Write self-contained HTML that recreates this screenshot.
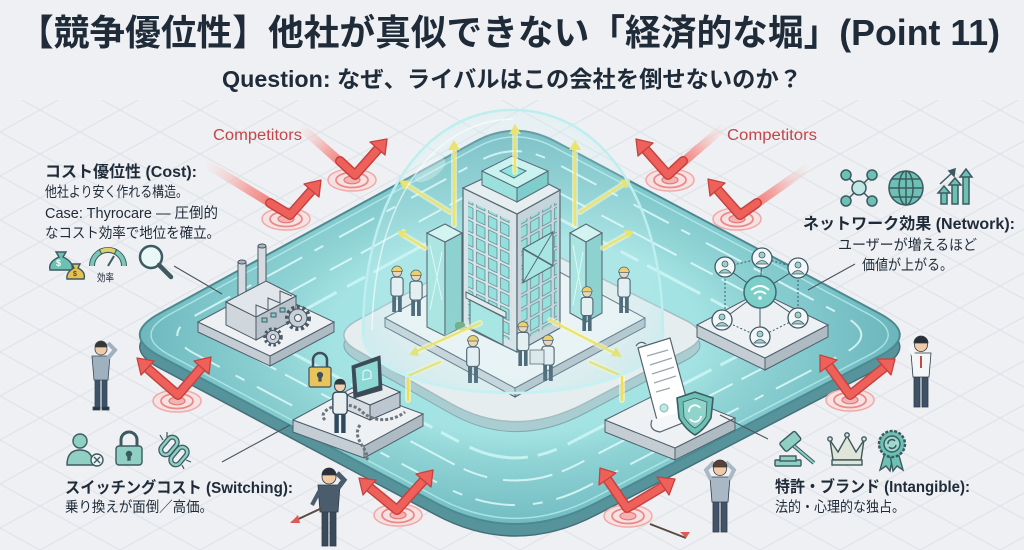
<!DOCTYPE html>
<html><head><meta charset="utf-8">
<style>
html,body{margin:0;padding:0;background:#eef0f3;width:1024px;height:550px;overflow:hidden;}
svg{display:block;}
text{font-family:"Liberation Sans","Noto Sans CJK JP",sans-serif;fill:#1f2b38;}
</style></head><body>
<svg width="1024" height="550" viewBox="0 0 1024 550" xmlns="http://www.w3.org/2000/svg">
<defs>
  <pattern id="grid" width="80" height="44" patternUnits="userSpaceOnUse">
    <path d="M0,0 L80,44 M0,44 L80,0" stroke="#dde2e7" stroke-width="1" fill="none"/>
  </pattern>
  <radialGradient id="moatG" cx="515" cy="335" r="410" gradientUnits="userSpaceOnUse" gradientTransform="translate(515,335) scale(1,0.53) translate(-515,-335)">
    <stop offset="0.45" stop-color="#a4e3e3"/>
    <stop offset="0.6" stop-color="#8ed2d4"/>
    <stop offset="0.82" stop-color="#77c0c5"/>
    <stop offset="1" stop-color="#66afb6"/>
  </radialGradient>
  <radialGradient id="domeG" cx="513" cy="240" r="170" gradientUnits="userSpaceOnUse">
    <stop offset="0" stop-color="#e6fbfc" stop-opacity="0.1"/>
    <stop offset="0.8" stop-color="#c8f1f3" stop-opacity="0.22"/>
    <stop offset="1" stop-color="#b0e8ec" stop-opacity="0.35"/>
  </radialGradient>
  <pattern id="winP" width="12" height="14" patternUnits="userSpaceOnUse">
    <rect x="1.5" y="1.5" width="8.5" height="11" fill="#8adcd8" stroke="#3f6b73" stroke-width="0.7"/>
  </pattern>
  <linearGradient id="t1" gradientUnits="userSpaceOnUse" x1="205" y1="163" x2="290" y2="215">
    <stop offset="0" stop-color="#f6d0ce" stop-opacity="0"/><stop offset="0.5" stop-color="#f3a9a6"/><stop offset="1" stop-color="#ec5c57"/></linearGradient>
  <linearGradient id="t2" gradientUnits="userSpaceOnUse" x1="300" y1="126" x2="355" y2="175">
    <stop offset="0" stop-color="#f6d0ce" stop-opacity="0"/><stop offset="0.5" stop-color="#f3a9a6"/><stop offset="1" stop-color="#ec5c57"/></linearGradient>
  <linearGradient id="t3" gradientUnits="userSpaceOnUse" x1="725" y1="126" x2="668" y2="175">
    <stop offset="0" stop-color="#f6d0ce" stop-opacity="0"/><stop offset="0.5" stop-color="#f3a9a6"/><stop offset="1" stop-color="#ec5c57"/></linearGradient>
  <linearGradient id="t4" gradientUnits="userSpaceOnUse" x1="810" y1="166" x2="740" y2="215">
    <stop offset="0" stop-color="#f6d0ce" stop-opacity="0"/><stop offset="0.5" stop-color="#f3a9a6"/><stop offset="1" stop-color="#ec5c57"/></linearGradient>

  <g id="worker">
    <path d="M-2,0 L-2,-12 M2,0 L2,-12" stroke="#2f4a5e" stroke-width="2.6"/>
    <rect x="-4.2" y="-24" width="8.4" height="13" rx="2" fill="#e9eef1" stroke="#34495a" stroke-width="0.8"/>
    <circle cx="0" cy="-27.5" r="3.2" fill="#f1cfae" stroke="#34495a" stroke-width="0.6"/>
    <path d="M-3.7,-28 A3.7,3.7 0 0 1 3.7,-28 Z" fill="#f2c94c" stroke="#34495a" stroke-width="0.5"/>
  </g>
  <g id="target">
    <ellipse rx="24" ry="11" fill="#f9dcdb" fill-opacity="0.7" stroke="#f1aaa8" stroke-width="1.5"/>
    <ellipse rx="16" ry="7.5" fill="none" stroke="#eb8a88" stroke-width="1.8"/>
    <ellipse rx="8" ry="3.8" fill="#f4b3b1" stroke="#e47b79" stroke-width="1.2"/>
  </g>
</defs>

<rect width="1024" height="550" fill="#eef0f3"/>
<rect x="0" y="100" width="1024" height="450" fill="url(#grid)"/>

<!-- moat side + top -->
<path transform="translate(0,12)" d="M159.5,313.5 L475.5,141.5 Q515,120 555.5,141.5 L879.5,313.5 Q920,335 879.5,356 L596,503 Q515,545 436,503 L159.5,356 Q120,335 159.5,313.5 Z" fill="#56939b" stroke="#456f78" stroke-width="1.5"/>
<path d="M159.5,313.5 L475.5,141.5 Q515,120 555.5,141.5 L879.5,313.5 Q920,335 879.5,356 L596,503 Q515,545 436,503 L159.5,356 Q120,335 159.5,313.5 Z" fill="url(#moatG)" stroke="#4b8a93" stroke-width="2"/>
<g fill="none" stroke="#e4fdfd" stroke-width="2" opacity="0.8">
  <path transform="translate(515,335) scale(0.9) translate(-515,-335)" vector-effect="non-scaling-stroke" stroke-dasharray="40 14 10 18" d="M159.5,313.5 L475.5,141.5 Q515,120 555.5,141.5 L879.5,313.5 Q920,335 879.5,356 L596,503 Q515,545 436,503 L159.5,356 Q120,335 159.5,313.5 Z"/>
  <path transform="translate(515,335) scale(0.77) translate(-515,-335)" vector-effect="non-scaling-stroke" stroke-dasharray="25 10 50 16" d="M159.5,313.5 L475.5,141.5 Q515,120 555.5,141.5 L879.5,313.5 Q920,335 879.5,356 L596,503 Q515,545 436,503 L159.5,356 Q120,335 159.5,313.5 Z"/>
  <path transform="translate(515,335) scale(0.65) translate(-515,-335)" vector-effect="non-scaling-stroke" stroke="#d2f8f8" stroke-width="3" stroke-dasharray="60 12 20 10" d="M159.5,313.5 L475.5,141.5 Q515,120 555.5,141.5 L879.5,313.5 Q920,335 879.5,356 L596,503 Q515,545 436,503 L159.5,356 Q120,335 159.5,313.5 Z"/>
</g>
<path transform="translate(515,335) scale(0.97) translate(-515,-335)" d="M159.5,313.5 L475.5,141.5 Q515,120 555.5,141.5 L879.5,313.5 Q920,335 879.5,356 L596,503 Q515,545 436,503 L159.5,356 Q120,335 159.5,313.5 Z" fill="none" stroke="#b5eeec" stroke-width="1.5" opacity="0.8"/>

<!-- island -->
<path transform="translate(0,10)" d="M357.75,320 L487.25,250 Q515,235 545,250 L685,320 Q715,335 685,350.75 L585,403.25 Q515,440 450.25,403.25 L357.75,350.75 Q330,335 357.75,320 Z" fill="#a9cdd1" stroke="#7fa9ae" stroke-width="1"/>
<path d="M357.75,320 L487.25,250 Q515,235 545,250 L685,320 Q715,335 685,350.75 L585,403.25 Q515,440 450.25,403.25 L357.75,350.75 Q330,335 357.75,320 Z" fill="#e5edef" stroke="#a3bcc2" stroke-width="1.5"/>

<!-- building slab -->
<polygon points="385,318 515,388 515,397 385,327" fill="#c5cfd6" stroke="#4f606c" stroke-width="1"/>
<polygon points="515,388 645,318 645,327 515,397" fill="#b0bcc5" stroke="#4f606c" stroke-width="1"/>
<polygon points="385,318 515,248 645,318 515,388" fill="#eff3f5" stroke="#4f606c" stroke-width="1"/>

<!-- main tower -->
<g stroke="#3e4f5c" stroke-width="1.2">
  <polygon points="463,188 517,214 517,352 463,326" fill="#d9e0e5"/>
  <polygon points="517,214 560,190 560,328 517,352" fill="#c3ced6"/>
  <polygon points="463,188 512,165 560,190 517,214" fill="#e7ecef"/>
</g>
<g transform="matrix(1,0.48,0,1,463,188)"><rect x="5" y="10" width="44" height="120" fill="url(#winP)"/></g>
<g transform="matrix(1,-0.56,0,1,517,214)"><rect x="4" y="10" width="36" height="120" fill="url(#winP)"/>
  <rect x="6" y="38" width="30" height="34" fill="#9fe3df" stroke="#3e4f5c" stroke-width="1.2"/>
  <path d="M6,38 L36,72 M36,38 L6,72" stroke="#3e4f5c" stroke-width="1.2"/></g>
<g stroke="#3e4f5c" stroke-width="1">
  <polygon points="482,185 517,202 517,188 482,171" fill="#8fdcd8"/>
  <polygon points="517,202 548,185 548,171 517,188" fill="#6fc6c4"/>
  <polygon points="482,171 512,156 548,171 517,188" fill="#c8f2ef"/>
  <polygon points="500,171 512,165 526,171 514,178" fill="#7fe0dc"/>
</g>
<g stroke="#3e4f5c" stroke-width="1.1">
  <polygon points="427,233 445,242 445,336 427,327" fill="#a3e2dd"/>
  <polygon points="445,242 462,233 462,327 445,336" fill="#7fcbc8"/>
  <polygon points="427,233 445,224 462,233 445,242" fill="#d2f3f0"/>
  <polygon points="570,233 586,242 586,322 570,313" fill="#a3e2dd"/>
  <polygon points="586,242 602,233 602,313 586,322" fill="#7fcbc8"/>
  <polygon points="570,233 586,224 602,233 586,242" fill="#d2f3f0"/>
</g>
<path d="M430,245 L442,300 M442,252 L430,310 M573,245 L583,300 M583,252 L573,305" stroke="#eafffd" stroke-width="1" opacity="0.8"/>
<polygon points="466,292 506,312 506,318 466,298" fill="#e3e8eb" stroke="#3e4f5c" stroke-width="1"/>
<polygon points="470,300 503,317 503,345 470,328" fill="#9fe3df" stroke="#3e4f5c" stroke-width="1"/>
<rect x="455" y="322" width="10" height="8" rx="3" fill="#5fa070"/>

<use href="#worker" transform="translate(397,312) scale(1.45)"/>
<use href="#worker" transform="translate(416,316) scale(1.45)"/>
<use href="#worker" transform="translate(587,331) scale(1.4)"/>
<use href="#worker" transform="translate(624,313) scale(1.45)"/>
<use href="#worker" transform="translate(473,383) scale(1.5)"/>
<use href="#worker" transform="translate(523,366) scale(1.4)"/>
<use href="#worker" transform="translate(548,381) scale(1.45)"/>
<rect x="530" y="350" width="14" height="14" fill="#dfe5e9" stroke="#3e4f5c" stroke-width="0.8"/>

<!-- yellow arrows -->
<g fill="none" stroke-linecap="round">
  <g stroke="#fff8c4" stroke-width="6" opacity="0.6">
    <path d="M515,172 L515,130 M454,225 L454,147 M575,225 L575,147 M450,212 L405,184 M580,212 L625,183 M425,248 L402,234 M603,248 L628,234 M480,323 L415,352 M550,320 L616,354 M440,362 L408,376 L408,400 M590,362 L622,376 L622,400"/>
  </g>
  <g stroke="#f1df4f" stroke-width="2.2">
    <path d="M515,172 L515,130 M454,225 L454,147 M575,225 L575,147 M450,212 L405,184 M580,212 L625,183 M425,248 L402,234 M603,248 L628,234 M480,323 L415,352 M550,320 L616,354 M440,362 L408,376 L408,400 M590,362 L622,376 L622,400"/>
  </g>
</g>
<g fill="#f1df4f">
  <polygon points="515,124 509,134 521,134"/>
  <polygon points="454,140 448,150 460,150"/>
  <polygon points="575,140 569,150 581,150"/>
  <polygon points="399,180 410,181 404,190"/>
  <polygon points="631,179 626,189 620,180"/>
  <polygon points="397,231 407,230 402,239"/>
  <polygon points="634,231 629,239 624,230"/>
  <polygon points="409,355 416,346 419,356"/>
  <polygon points="622,357 611,356 616,347"/>
</g>

<!-- dome -->
<path d="M363,335 C363,190 430,110 513,110 C596,110 663,190 663,335 A150,58 0 0 1 363,335 Z" fill="url(#domeG)" stroke="#bdeef0" stroke-width="2.5"/>
<path d="M372,330 C374,200 435,120 513,119" fill="none" stroke="#ffffff" stroke-width="1.5" opacity="0.6"/>
<path d="M363,335 A150,58 0 0 0 663,335" fill="none" stroke="#c6f5f6" stroke-width="2" opacity="0.7"/>
<ellipse cx="430" cy="170" rx="18" ry="8" fill="#ffffff" opacity="0.3" transform="rotate(-35 430 170)"/>

<!-- factory platform -->
<g stroke="#4f606c" stroke-width="1">
  <polygon points="198,322 270,356 270,366 198,332" fill="#c3cdd3"/>
  <polygon points="270,356 334,322 334,332 270,366" fill="#aebbc3"/>
  <polygon points="198,322 262,288 334,322 270,356" fill="#eef1f3"/>
</g>
<g stroke="#4b5a66" stroke-width="1">
  <rect x="238" y="262" width="8" height="42" fill="#d5dbe0"/>
  <ellipse cx="242" cy="262" rx="4" ry="2" fill="#a9b3bb"/>
  <rect x="258" y="246" width="8" height="52" fill="#d5dbe0"/>
  <ellipse cx="262" cy="246" rx="4" ry="2" fill="#a9b3bb"/>
  <polygon points="226,302 256,317 256,340 226,325" fill="#cfd6dc"/>
  <polygon points="256,317 296,296 296,319 256,340" fill="#b9c3cb"/>
  <polygon points="226,302 256,317 296,296 266,281" fill="#e1e6ea"/>
  <path d="M256,317 L256,305 L268,310 L268,298 L280,303 L280,291 L292,296" fill="none"/>
  <rect x="262" y="318" width="5" height="4" fill="#7fcfcb"/>
  <rect x="271" y="313" width="5" height="4" fill="#7fcfcb"/>
  <rect x="280" y="308" width="5" height="4" fill="#7fcfcb"/>
</g>
<g stroke="#4b5a66">
  <circle cx="298" cy="318" r="11" fill="none" stroke-width="4" stroke-dasharray="3 2.6"/>
  <circle cx="298" cy="318" r="9" fill="#c7d0d6" stroke-width="1"/>
  <circle cx="298" cy="318" r="3.5" fill="#eef1f3" stroke-width="1"/>
  <circle cx="273" cy="337" r="8" fill="none" stroke-width="3.5" stroke-dasharray="2.5 2.3"/>
  <circle cx="273" cy="337" r="6.5" fill="#c7d0d6" stroke-width="1"/>
  <circle cx="273" cy="337" r="2.5" fill="#eef1f3" stroke-width="1"/>
</g>

<!-- network platform -->
<g stroke="#4f606c" stroke-width="1">
  <polygon points="697,325 765,358 765,370 697,337" fill="#c3cdd3"/>
  <polygon points="765,358 828,325 828,337 765,370" fill="#aebbc3"/>
  <polygon points="697,325 760,292 828,325 765,358" fill="#eef1f3"/>
</g>
<g stroke="#3d5a66" stroke-width="1" fill="none">
  <path d="M760,292 L725,267 M760,292 L762,258 M760,292 L798,268 M760,292 L722,320 M760,292 L798,318 M760,292 L760,337"/>
  <path d="M725,267 L762,258 L798,268 M722,320 L760,337 L798,318 M725,267 L725,310 M798,268 L798,308" stroke-dasharray="2 2"/>
</g>
<circle cx="760" cy="292" r="16" fill="#7ccfc8" stroke="#3d6b73" stroke-width="1.5"/>
<path d="M751,290 Q760,282 769,290 M754,294 Q760,289 766,294" fill="none" stroke="#ffffff" stroke-width="2"/>
<circle cx="760" cy="298" r="1.8" fill="#fff"/>
<g fill="#f3f7f8" stroke="#3d5a66" stroke-width="1.3">
  <circle cx="725" cy="267" r="10"/><circle cx="762" cy="258" r="10"/><circle cx="798" cy="268" r="10"/>
  <circle cx="722" cy="320" r="10"/><circle cx="798" cy="318" r="10"/><circle cx="760" cy="337" r="10"/>
</g>
<g fill="#9fcfc9" stroke="#3d5a66" stroke-width="0.8">
  <circle cx="725" cy="264" r="3"/><path d="M719,273 Q725,266 731,273 Z"/>
  <circle cx="762" cy="255" r="3"/><path d="M756,264 Q762,257 768,264 Z"/>
  <circle cx="798" cy="265" r="3"/><path d="M792,274 Q798,267 804,274 Z"/>
  <circle cx="722" cy="317" r="3"/><path d="M716,326 Q722,319 728,326 Z"/>
  <circle cx="798" cy="315" r="3"/><path d="M792,324 Q798,317 804,324 Z"/>
  <circle cx="760" cy="334" r="3"/><path d="M754,343 Q760,336 766,343 Z"/>
</g>

<!-- switching platform -->
<g stroke="#4f606c" stroke-width="1">
  <polygon points="293,420 364,446 364,458 293,432" fill="#c3cdd3"/>
  <polygon points="364,446 423,414 423,426 364,458" fill="#aebbc3"/>
  <polygon points="293,420 352,388 423,414 364,446" fill="#eef1f3"/>
</g>
<g stroke="#3e4f5c" stroke-width="1">
  <polygon points="347,395 370,405 370,420 347,410" fill="#d5dce1"/>
  <polygon points="370,405 400,392 400,407 370,420" fill="#bcc6ce"/>
  <polygon points="347,395 377,382 400,392 370,405" fill="#e6ebee"/>
  <polygon points="352,366 380,356 382,390 354,398" fill="#3c4a56"/>
  <polygon points="355,368 378,360 379,386 357,393" fill="#8fd9d4"/>
  <path d="M363,372 Q367,368 371,372 L371,378 L363,380 Z" fill="none" stroke="#e8ffff" stroke-width="1"/>
</g>
<path d="M325,420 C315,410 345,398 360,410 C375,425 395,420 405,412 M360,425 C350,440 372,450 366,462" fill="none" stroke="#6c757d" stroke-width="3" stroke-dasharray="3 2"/>
<g stroke="#3e4f5c" stroke-width="1.2">
  <path d="M313,368 L313,360 A7,7 0 0 1 327,360 L327,368" fill="none" stroke-width="2.5"/>
  <rect x="309" y="367" width="22" height="20" rx="2" fill="#e9c45a"/>
  <circle cx="320" cy="375" r="2.5" fill="#3e4f5c"/>
  <rect x="319" y="376" width="2" height="5" fill="#3e4f5c"/>
</g>
<g transform="translate(340,433) scale(1.7)">
  <path d="M-2,0 L-2,-12 M2,0 L2,-12" stroke="#2f4a5e" stroke-width="2.6"/>
  <rect x="-4.2" y="-24" width="8.4" height="13" rx="2" fill="#e9eef1" stroke="#34495a" stroke-width="0.8"/>
  <circle cx="0" cy="-27.5" r="3.2" fill="#f1cfae" stroke="#34495a" stroke-width="0.6"/>
  <path d="M-3.4,-28.5 A3.4,3.4 0 0 1 3.4,-28.5 Z" fill="#2f3a44"/>
</g>

<!-- patent platform -->
<g stroke="#4f606c" stroke-width="1">
  <polygon points="605,420 675,448 675,460 605,432" fill="#c3cdd3"/>
  <polygon points="675,448 735,418 735,430 675,460" fill="#aebbc3"/>
  <polygon points="605,420 665,390 735,418 675,448" fill="#eef1f3"/>
</g>
<g stroke="#55636e" stroke-width="1.2">
  <polygon points="638,348 670,338 690,412 658,424" fill="#ffffff"/>
  <path d="M636,346 Q640,340 646,344 M652,420 Q648,430 660,432 L690,420 Q695,412 688,410" fill="#f4f6f7"/>
  <path d="M647,356 L668,350 M650,365 L672,358 M652,374 L674,367 M654,383 L676,376 M656,392 L670,388" fill="none" stroke="#9aa6ae" stroke-width="1.2"/>
  <circle cx="664" cy="408" r="4" fill="#bfe8e4" stroke="#7fb9b3" stroke-width="1"/>
</g>
<path d="M695,392 L713,398 L711,418 Q704,430 695,435 Q686,430 679,418 L677,398 Z" fill="#6cc0b4" stroke="#3d5c64" stroke-width="1.6"/>
<path d="M695,398 L707,402 L706,417 Q701,425 695,428 Q689,425 684,417 L683,402 Z" fill="#8fd4ca" stroke="#3d5c64" stroke-width="0.8"/>
<path d="M689,412 A6,6 0 0 1 700,408 M701,416 A6,6 0 0 1 690,419" fill="none" stroke="#ffffff" stroke-width="1.8"/>

<!-- targets -->
<use href="#target" transform="translate(286,219)"/>
<use href="#target" transform="translate(352,180)"/>
<use href="#target" transform="translate(670,180)"/>
<use href="#target" transform="translate(737,219)"/>
<use href="#target" transform="translate(177,401)"/>
<use href="#target" transform="translate(398,515)"/>
<use href="#target" transform="translate(628,516)"/>
<use href="#target" transform="translate(850,400)"/>

<!-- red arrows -->
<g fill="none" stroke-linecap="round" stroke-linejoin="round">
  <path d="M205,163 L290,215" stroke="url(#t1)" stroke-width="9"/>
  <path d="M300,126 L355,175" stroke="url(#t2)" stroke-width="9"/>
  <path d="M725,126 L668,175" stroke="url(#t3)" stroke-width="9"/>
  <path d="M810,166 L740,215" stroke="url(#t4)" stroke-width="9"/>
  <g stroke="#c4433f" stroke-width="10">
    <path d="M270,203 L290,215 L312,190"/>
    <path d="M340,161 L355,175 L378,149"/>
    <path d="M683,161 L668,175 L645,149"/>
    <path d="M757,203 L740,215 L717,189"/>
    <path d="M147,368 L178,395 L202,367"/>
    <path d="M369,487 L397,510 L424,480"/>
    <path d="M607,479 L627,508 L664,486"/>
    <path d="M829,366 L850,395 L885,367"/>
  </g>
  <g stroke="#ef605b" stroke-width="7">
    <path d="M270,203 L290,215 L312,190"/>
    <path d="M340,161 L355,175 L378,149"/>
    <path d="M683,161 L668,175 L645,149"/>
    <path d="M757,203 L740,215 L717,189"/>
    <path d="M147,368 L178,395 L202,367"/>
    <path d="M369,487 L397,510 L424,480"/>
    <path d="M607,479 L627,508 L664,486"/>
    <path d="M829,366 L850,395 L885,367"/>
  </g>
</g>
<g fill="#ef605b" stroke="#c4433f" stroke-width="1.3" stroke-linejoin="round">
  <polygon points="321,180 319,197 304,184"/>
  <polygon points="387,139 385,155 370,142"/>
  <polygon points="636,139 653,143 638,156"/>
  <polygon points="708,179 725,183 710,196"/>
  <polygon points="137,358 154,361 141,375"/>
  <polygon points="211,357 209,374 194,361"/>
  <polygon points="359,478 376,480 363,495"/>
  <polygon points="433,470 431,487 416,474"/>
  <polygon points="600,468 616,473 599,485"/>
  <polygon points="675,479 669,495 657,477"/>
  <polygon points="820,355 837,360 820,372"/>
  <polygon points="895,359 891,375 877,359"/>
</g>

<!-- stressed men -->
<g stroke="#34495a" stroke-width="0.8">
  <rect x="95" y="378" width="5" height="30" fill="#3d5266"/><rect x="102" y="378" width="5" height="30" fill="#3d5266"/>
  <path d="M92,356 L110,356 L108,380 L94,380 Z" fill="#9fb1bf"/>
  <path d="M108,358 L115,350 L108,343" fill="none" stroke="#9fb1bf" stroke-width="4"/>
  <circle cx="101" cy="349" r="6" fill="#f0cba8"/>
  <path d="M95,347 A6,6 0 0 1 107,347 Z" fill="#3b3530"/>
  <rect x="93" y="407" width="7" height="3" fill="#2a3440"/><rect x="102" y="407" width="7" height="3" fill="#2a3440"/>
</g>
<g stroke="#2d3b48" stroke-width="0.8">
  <rect x="322" y="510" width="6" height="36" fill="#3a4a5a"/><rect x="330" y="510" width="6" height="36" fill="#3a4a5a"/>
  <path d="M318,485 L340,485 L338,512 L320,512 Z" fill="#4b5c6d"/>
  <path d="M338,488 L344,480 L337,473" fill="none" stroke="#4b5c6d" stroke-width="5"/>
  <path d="M320,490 L312,505" fill="none" stroke="#4b5c6d" stroke-width="4"/>
  <circle cx="329" cy="477" r="7" fill="#f0cba8"/>
  <path d="M322,475 A7,7 0 0 1 336,475 Z" fill="#2b2f35"/>
</g>
<path d="M292,522 L322,508" stroke="#5a4a40" stroke-width="2"/>
<polygon points="290,523 298,515 300,523" fill="#e05a55"/>
<g stroke="#2d3b48" stroke-width="0.8">
  <rect x="713" y="500" width="6" height="32" fill="#42546a"/><rect x="721" y="500" width="6" height="32" fill="#42546a"/>
  <path d="M710,477 L730,477 L728,502 L712,502 Z" fill="#a9b8c4"/>
  <path d="M711,480 L706,470 L714,462 M729,480 L734,470 L726,462" fill="none" stroke="#a9b8c4" stroke-width="4"/>
  <circle cx="720" cy="469" r="6.5" fill="#f0cba8"/>
  <path d="M713,467 A7,7 0 0 1 727,467 Z" fill="#5a4032"/>
</g>
<path d="M650,524 L686,538" stroke="#5a4a40" stroke-width="2"/>
<polygon points="686,538 680,532 690,532" fill="#e05a55"/>
<g stroke="#2d3b48" stroke-width="0.8">
  <rect x="914" y="375" width="6" height="32" fill="#3f5168"/><rect x="922" y="375" width="6" height="32" fill="#3f5168"/>
  <path d="M911,353 L931,353 L929,377 L913,377 Z" fill="#f3f5f6"/>
  <path d="M914,356 L910,348 L918,343" fill="none" stroke="#f3f5f6" stroke-width="4"/>
  <circle cx="921" cy="345" r="6.5" fill="#f0cba8"/>
  <path d="M914,343 A7,7 0 0 1 928,343 Z" fill="#2b2f35"/>
  <rect x="920" y="356" width="2" height="12" fill="#c24a46" stroke="none"/>
</g>

<!-- connector lines -->
<g stroke="#4a5560" stroke-width="1.1">
  <line x1="174" y1="266" x2="222" y2="294"/>
  <line x1="855" y1="264" x2="808" y2="290"/>
  <line x1="222" y1="462" x2="290" y2="425"/>
  <line x1="720" y1="415" x2="768" y2="439"/>
</g>

<!-- icons: left -->
<g stroke="#3c5a60" stroke-width="1.4">
  <path d="M56,252 L66,252 L63,257 Q74,262 72,270 L50,270 Q48,262 59,257 Z" fill="#6cc0b4"/>
  <path d="M72,264 L80,264 L78,268 Q86,272 84,279 L67,279 Q66,272 74,268 Z" fill="#e7c14f"/>
  <path d="M92,266 A16,16 0 0 1 124,266" fill="none" stroke="#3c5a60" stroke-width="6"/>
  <path d="M92,266 A16,16 0 0 1 100,252" fill="none" stroke="#7cc8b8" stroke-width="4"/>
  <path d="M101,251.5 A16,16 0 0 1 115,251.5" fill="none" stroke="#e3cf6a" stroke-width="4"/>
  <path d="M116,252 A16,16 0 0 1 124,266" fill="none" stroke="#7cc8b8" stroke-width="4"/>
  <path d="M108,266 L114,256" stroke-width="2"/>
  <circle cx="151" cy="257" r="11" fill="#eaf7f7" stroke-width="2.5"/>
  <line x1="159" y1="265" x2="171" y2="277" stroke-width="4.5" stroke-linecap="round"/>
</g>
<text x="56" y="266" font-size="9" font-weight="bold" style="fill:#fff">$</text>
<text x="73" y="276" font-size="7" font-weight="bold" style="fill:#5a4a1a">$</text>
<text x="97" y="281" font-size="10.5" textLength="17" lengthAdjust="spacingAndGlyphs">効率</text>

<!-- icons: right -->
<g stroke="#3c5a60" stroke-width="1.5">
  <path d="M859,188 L846,175 M859,188 L872,175 M859,188 L846,201 M859,188 L872,201"/>
  <circle cx="859" cy="188" r="7" fill="#bfe6e0"/>
  <circle cx="846" cy="175" r="5" fill="#6cc0b4"/><circle cx="872" cy="175" r="5" fill="#6cc0b4"/>
  <circle cx="846" cy="201" r="5" fill="#6cc0b4"/><circle cx="872" cy="201" r="5" fill="#6cc0b4"/>
  <circle cx="906" cy="188" r="17" fill="#6cc0b4"/>
  <ellipse cx="906" cy="188" rx="7" ry="17" fill="none"/>
  <path d="M889,188 L923,188 M892,179 L920,179 M892,197 L920,197 M906,171 L906,205" fill="none"/>
  <rect x="941" y="192" width="6" height="12" fill="#6cc0b4"/>
  <rect x="952" y="184" width="6" height="20" fill="#6cc0b4"/>
  <rect x="963" y="176" width="6" height="28" fill="#6cc0b4"/>
  <polygon points="938,193 944,186 950,193" fill="#6cc0b4"/>
  <polygon points="949,185 955,178 961,185" fill="#6cc0b4"/>
  <polygon points="960,177 966,169 972,177" fill="#6cc0b4"/>
  <path d="M940,184 L953,172" fill="none"/>
  <polygon points="955,169 949,171 954,176" fill="#3c5a60"/>
</g>

<!-- icons: bottom-left -->
<g stroke="#3c5a60" stroke-width="1.4">
  <circle cx="80" cy="441" r="7" fill="#8fcfc4"/>
  <path d="M67,465 Q67,450 80,450 Q93,450 93,465 Z" fill="#8fcfc4"/>
  <circle cx="97" cy="460" r="6" fill="#eef3f4"/>
  <path d="M94,457 L100,463 M100,457 L94,463" fill="none"/>
  <path d="M121,447 L121,440 A8,8 0 0 1 137,440 L137,447" fill="none" stroke-width="3"/>
  <rect x="116" y="446" width="26" height="19" rx="3" fill="#8fcfc4"/>
  <circle cx="129" cy="454" r="2.5" fill="#3c5a60"/>
  <rect x="128" y="455" width="2" height="5" fill="#3c5a60"/>
  <rect x="164" y="436" width="10" height="20" rx="5" fill="none" stroke="#3c5a60" stroke-width="5" transform="rotate(40 169 446)"/>
  <rect x="164" y="436" width="10" height="20" rx="5" fill="none" stroke="#8fcfc4" stroke-width="2.5" transform="rotate(40 169 446)"/>
  <rect x="174" y="446" width="10" height="20" rx="5" fill="none" stroke="#3c5a60" stroke-width="5" transform="rotate(40 179 456)"/>
  <rect x="174" y="446" width="10" height="20" rx="5" fill="none" stroke="#8fcfc4" stroke-width="2.5" transform="rotate(40 179 456)"/>
  <path d="M160,435 L163,440 M167,432 L167,437 M186,460 L191,462 M182,465 L184,469" fill="none" stroke-width="1.2"/>
</g>

<!-- icons: bottom-right -->
<g stroke="#3c5a60" stroke-width="1.4">
  <rect x="775" y="460" width="26" height="6" rx="1" fill="#8fcfc4"/>
  <rect x="780" y="456" width="16" height="5" fill="#8fcfc4"/>
  <rect x="780" y="436" width="20" height="11" rx="2" fill="#8fcfc4" transform="rotate(-40 790 441)"/>
  <line x1="794" y1="446" x2="814" y2="463" stroke-width="4"/>
  <line x1="794" y1="446" x2="814" y2="463" stroke="#8fcfc4" stroke-width="2"/>
  <path d="M830,440 L838,452 L847,436 L856,452 L864,440 L861,460 L833,460 Z" fill="#dfe6d9"/>
  <circle cx="830" cy="439" r="2.2" fill="#dfe6d9"/><circle cx="847" cy="435" r="2.2" fill="#dfe6d9"/><circle cx="864" cy="439" r="2.2" fill="#dfe6d9"/>
  <rect x="832" y="460" width="30" height="5" fill="#dfe6d9"/>
  <path d="M885,452 L880,470 L886,466 L890,471 L893,455 Z" fill="#6cc0b4"/>
  <path d="M898,452 L903,470 L897,466 L893,471 L890,455 Z" fill="#6cc0b4"/>
  <circle cx="892" cy="444" r="13" fill="#6cc0b4" stroke-dasharray="3 1.5" stroke-width="2.5"/>
  <circle cx="892" cy="444" r="8" fill="#9fd8ce"/>
  <path d="M888,444 A4,4 0 0 1 895,441 M896,445 A4,4 0 0 1 889,447" fill="none" stroke="#3c5a60" stroke-width="1.5"/>
</g>

<!-- texts -->
<text x="18" y="45" font-size="36" font-weight="bold" textLength="982" lengthAdjust="spacingAndGlyphs">【競争優位性】他社が真似できない「経済的な堀」(Point 11)</text>
<text x="222" y="87" font-size="23" font-weight="bold" textLength="580" lengthAdjust="spacingAndGlyphs">Question: なぜ、ライバルはこの会社を倒せないのか？</text>

<text x="213" y="140" font-size="15.5" textLength="89" lengthAdjust="spacingAndGlyphs" style="fill:#c4454a">Competitors</text>
<text x="727" y="140" font-size="15.5" textLength="90" lengthAdjust="spacingAndGlyphs" style="fill:#c4454a">Competitors</text>

<text x="45" y="177" font-size="16" font-weight="bold" textLength="152" lengthAdjust="spacingAndGlyphs">コスト優位性 (Cost):</text>
<text x="45" y="197" font-size="14.5" textLength="143" lengthAdjust="spacingAndGlyphs">他社より安く作れる構造。</text>
<text x="45" y="218" font-size="14.5" textLength="173" lengthAdjust="spacingAndGlyphs">Case: Thyrocare — 圧倒的</text>
<text x="45" y="238" font-size="14.5" textLength="175" lengthAdjust="spacingAndGlyphs">なコスト効率で地位を確立。</text>

<text x="803" y="229" font-size="16" font-weight="bold" textLength="212" lengthAdjust="spacingAndGlyphs">ネットワーク効果 (Network):</text>
<text x="838" y="250" font-size="14.5" textLength="139" lengthAdjust="spacingAndGlyphs">ユーザーが増えるほど</text>
<text x="862" y="270" font-size="14.5" textLength="91" lengthAdjust="spacingAndGlyphs">価値が上がる。</text>

<text x="65" y="493" font-size="16" font-weight="bold" textLength="228" lengthAdjust="spacingAndGlyphs">スイッチングコスト (Switching):</text>
<text x="65" y="512" font-size="14.5" textLength="148" lengthAdjust="spacingAndGlyphs">乗り換えが面倒／高価。</text>

<text x="775" y="492" font-size="16" font-weight="bold" textLength="195" lengthAdjust="spacingAndGlyphs">特許・ブランド (Intangible):</text>
<text x="775" y="512" font-size="14.5" textLength="130" lengthAdjust="spacingAndGlyphs">法的・心理的な独占。</text>
</svg>
</body></html>
